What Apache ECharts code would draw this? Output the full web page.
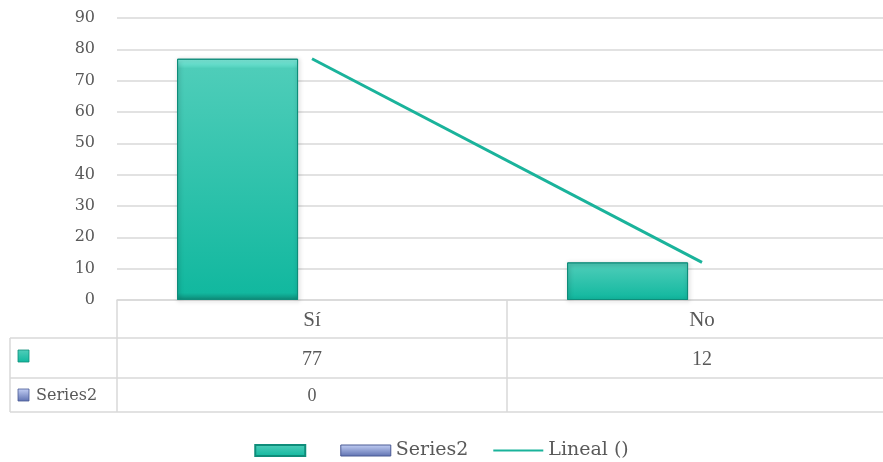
<!DOCTYPE html>
<html><head><meta charset="utf-8">
<script src="https://cdn.jsdelivr.net/npm/echarts@6/dist/echarts.min.js"></script>
<style>html,body{margin:0;padding:0;background:#fff}#c{width:883px;height:462px}</style>
</head><body><div id="c"></div>
<script>
// ---- data ----
const categories = ['Sí', 'No'];
const series1Name = ' ';
const series1Values = [77, 12];
const series2Name = 'Series2';
const series2Values = [0, null];
const trendName = 'Lineal ()';
const trendValues = [77, 12];
const yMin = 0, yMax = 90, yInterval = 10;

const FONT = 'Liberation Serif';
const WFONT = 'DejaVu Serif';
const TXT = '#595959';
const GRID = '#d9d9d9';
const chart = echarts.init(document.getElementById('c'));

const tealGrad = new echarts.graphic.LinearGradient(0, 0, 0, 1, [
  {offset: 0, color: '#86f6e6'}, {offset: 0.04, color: '#4ecdb9'}, {offset: 0.97, color: '#12b89f'}, {offset: 1, color: '#0e8e7b'}]);
const blueGrad = new echarts.graphic.LinearGradient(0, 0, 0, 1, [
  {offset: 0, color: '#c4d0f5'}, {offset: 1, color: '#5d70b0'}]);

chart.setOption({
  animation: false,
  textStyle: {fontFamily: FONT},
  grid: {left: 117, width: 780, top: 18, bottom: 162, outerBoundsMode: 'none', containLabel: false},
  xAxis: {
    type: 'category', data: categories,
    axisLine: {lineStyle: {color: GRID, width: 1.5}},
    axisTick: {show: false}, axisLabel: {show: false}
  },
  yAxis: {
    type: 'value', min: yMin, max: yMax, interval: yInterval,
    axisLine: {show: false}, axisTick: {show: false},
    axisLabel: {color: TXT, fontSize: 16, margin: 22, fontFamily: WFONT},
    splitLine: {lineStyle: {color: GRID, width: 1.5}}
  },
  legend: {
    top: 436, left: 'center', itemWidth: 50, itemHeight: 11, itemGap: 24,
    textStyle: {color: TXT, fontSize: 19, fontFamily: WFONT},
    data: [{name: series1Name, icon: 'rect'},
           {name: series2Name, icon: 'rect', itemStyle: {color: blueGrad, borderColor: '#4a5a94', borderWidth: 1}},
           {name: trendName, itemStyle: {opacity: 0}}]
  },
  series: [
    {name: series1Name, type: 'bar', data: series1Values, barWidth: 121, barGap: '23%',
     itemStyle: {color: tealGrad, borderColor: '#0f8d7a', borderWidth: 1,
       shadowColor: 'rgba(0,0,0,0.35)', shadowBlur: 4, shadowOffsetX: 1, shadowOffsetY: 1}},
    {name: series2Name, type: 'bar', data: series2Values, barWidth: 121,
     itemStyle: {color: blueGrad, borderColor: '#4a5a94', borderWidth: 0}},
    {name: trendName, type: 'line', data: trendValues, symbol: 'none', z: 5,
     lineStyle: {color: '#1ab39b', width: 3}, itemStyle: {color: '#1ab39b'}}
  ]
});

// ---- data table below the plot, positioned from the axis scale ----
const c0 = chart.convertToPixel({xAxisIndex: 0}, 0);
const c1 = chart.convertToPixel({xAxisIndex: 0}, 1);
const band = c1 - c0;
const L = c0 - band / 2, M = c0 + band / 2, R = c1 + band / 2;
const yTop = chart.convertToPixel({yAxisIndex: 0}, 0);
const r1 = yTop + 38, r2 = r1 + 40, r3 = r2 + 34;
const labL = 10;
const ls = {stroke: GRID, lineWidth: 1.5};
const g = [];
function hline(y, x1, x2) { g.push({type: 'line', shape: {x1: x1, y1: y, x2: x2, y2: y}, style: ls, silent: true}); }
function vline(x, y1, y2) { g.push({type: 'line', shape: {x1: x, y1: y1, x2: x, y2: y2}, style: ls, silent: true}); }
hline(r1, labL, R); hline(r2, labL, R); hline(r3, labL, R);
vline(L, yTop, r3); vline(M, yTop, r3); vline(labL, r1, r3);
function txt(x, y, s, size, align, font) {
  g.push({type: 'text', x: x, y: y, silent: true,
    style: {text: s, fill: TXT, fontSize: size, fontFamily: font || FONT, align: align || 'center', verticalAlign: 'middle'}});
}
categories.forEach((cat, i) => {
  const cx = i === 0 ? c0 : c1;
  txt(cx, (yTop + r1) / 2 + 1, cat, 21);
  txt(cx, (r1 + r2) / 2 + 2, series1Values[i] == null ? '' : String(series1Values[i]), 20);
  txt(cx, (r2 + r3) / 2 + 1, series2Values[i] == null ? '' : String(series2Values[i]), 18);
});
g.push({type: 'rect', shape: {x: 18, y: (r1 + r2) / 2 - 8, width: 11, height: 12}, style: {fill: tealGrad, stroke: '#0f8d7a', lineWidth: 0.8}, silent: true});
g.push({type: 'rect', shape: {x: 18, y: (r2 + r3) / 2 - 6, width: 11, height: 12}, style: {fill: blueGrad, stroke: '#4a5a94', lineWidth: 0.8}, silent: true});
txt(36, (r1 + r2) / 2 + 1, series1Name, 16, 'left', WFONT);
txt(36, (r2 + r3) / 2 + 1, series2Name, 16, 'left', WFONT);
chart.setOption({graphic: {elements: g}});
</script></body></html>
